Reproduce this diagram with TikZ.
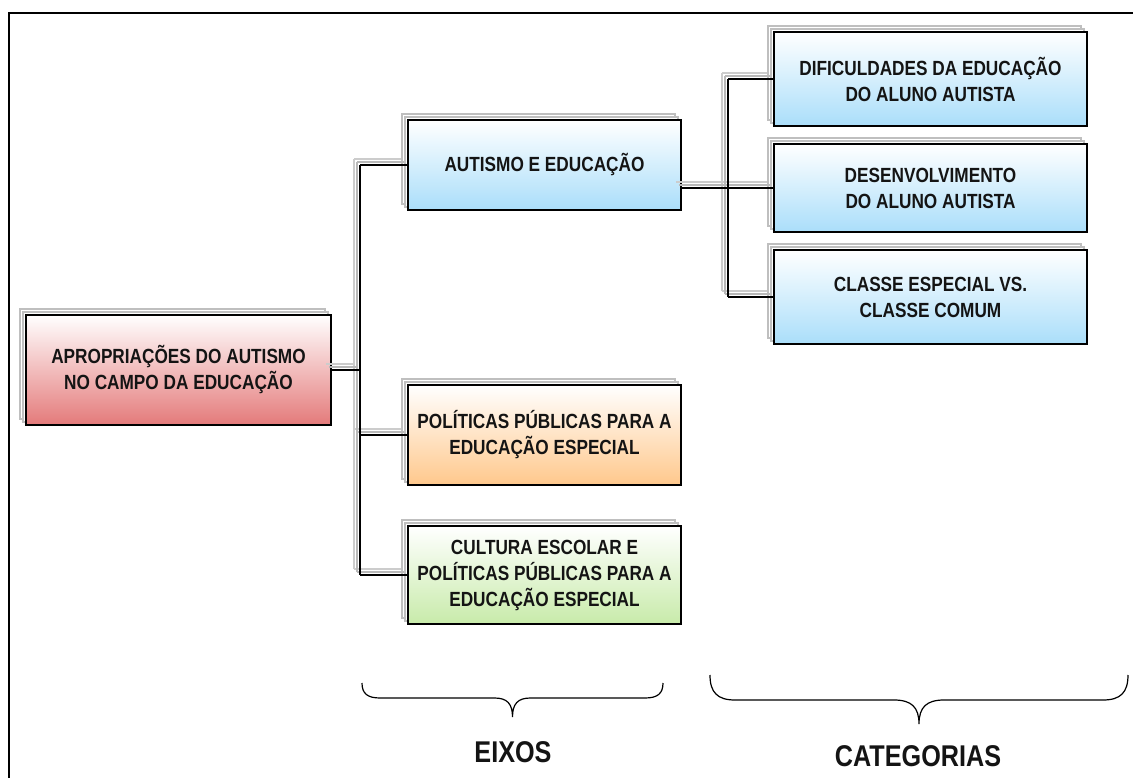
\documentclass[tikz,border=0pt]{standalone}
\usepackage{fontspec}
\setmainfont{Liberation Sans}
\newfontfamily\narrowfont[FakeStretch=0.84]{Liberation Sans}
\usetikzlibrary{shadows}
\definecolor{rootred}{RGB}{228,122,122}
\definecolor{axisblue}{RGB}{170,222,250}
\definecolor{axisorange}{RGB}{255,200,140}
\definecolor{axisgreen}{RGB}{200,235,170}
\definecolor{ink}{RGB}{20,20,20}
\tikzstyle{box}=[draw=black,line width=1.8pt,align=center,text=ink,top color=white,inner sep=0pt,
  font=\narrowfont\bfseries\fontsize{20.5}{26}\selectfont,
  double copy shadow={shadow xshift=-3pt,shadow yshift=3pt,draw=gray!50,fill=white,line width=1.4pt}]
\tikzstyle{title}=[text=ink,font=\narrowfont\bfseries\fontsize{30}{34}\selectfont]

\begin{document}
\begin{tikzpicture}[x=1pt,y=-1pt]
      \useasboundingbox (0,0) rectangle (1133,778);
      \draw[line width=2.4pt] (9,778) -- (9,13) -- (1133,13);

      \node[box,bottom color=rootred,minimum width=305pt,minimum height=110pt] (root) at (178.5,370)
        {APROPRIAÇÕES DO AUTISMO\\NO CAMPO DA EDUCAÇÃO};
      \foreach \id/\y/\h/\col/\lbl in {autismo/165/90/axisblue/{AUTISMO E EDUCAÇÃO},
          politicas/435/100/axisorange/{POLÍTICAS PÚBLICAS PARA A\\EDUCAÇÃO ESPECIAL},
          cultura/575/98/axisgreen/{CULTURA ESCOLAR E\\POLÍTICAS PÚBLICAS PARA A\\EDUCAÇÃO ESPECIAL}}{
        \node[box,bottom color=\col,minimum width=273pt,minimum height=\h pt] (\id) at (544.5,\y) {\lbl};
      }
      \foreach \id/\y/\h/\lbl in {cat1/79/94/{DIFICULDADES DA EDUCAÇÃO\\DO ALUNO AUTISTA},
          cat2/188/88/{DESENVOLVIMENTO\\DO ALUNO AUTISTA},
          cat3/297/94/{CLASSE ESPECIAL VS.\\CLASSE COMUM}}{
        \node[box,bottom color=axisblue,minimum width=313pt,minimum height=\h pt] (\id) at (930.5,\y) {\lbl};
      }

      \coordinate (j1) at (360,370);
      \coordinate (j2) at (728,188);
      \foreach \s/\col/\w in {6/gray!40/1.5,3/gray!55/1.5,0/black/1.8}{
        \begin{scope}[transform canvas={xshift=-\s pt,yshift=\s pt}]
          \path[draw=\col,line width=\w pt] (root.east) -- (j1)
            (j1 |- autismo.west) -- (j1 |- cultura.west)
            (j1 |- autismo.west) -- (autismo.west)
            (j1 |- politicas.west) -- (politicas.west)
            (j1 |- cultura.west) -- (cultura.west)
            (autismo.east |- j2) -- (cat2.west)
            (j2 |- cat1.west) -- (j2 |- cat3.west)
            (j2 |- cat1.west) -- (cat1.west)
            (j2 |- cat3.west) -- (cat3.west);
        \end{scope}
      }

      \foreach \xa/\xb/\yt/\hh/\dd/\rr in {362/663/683/15/34/18,710/1128/675/25/49/25}{
        \pgfmathsetmacro\xm{(\xa+\xb)/2}
        \pgfmathsetmacro\yh{\yt+\hh}
        \pgfmathsetmacro\yk{\yt+\hh+0.3*(\dd-\hh)}
        \draw[line width=1.2pt] (\xa,\yt) .. controls (\xa,\yt+0.7*\hh) and (\xa+0.3*\rr,\yh) .. (\xa+\rr,\yh)
          -- (\xm-\rr,\yh) .. controls (\xm-0.3*\rr,\yh) and (\xm,\yk) .. (\xm,\yt+\dd)
          .. controls (\xm,\yk) and (\xm+0.3*\rr,\yh) .. (\xm+\rr,\yh)
          -- (\xb-\rr,\yh) .. controls (\xb-0.3*\rr,\yh) and (\xb,\yt+0.7*\hh) .. (\xb,\yt);
      }
      \node[title] (eixos) at (513,752) {EIXOS};
      \node[title] (categorias) at (918,756) {CATEGORIAS};
\end{tikzpicture}
\end{document}
